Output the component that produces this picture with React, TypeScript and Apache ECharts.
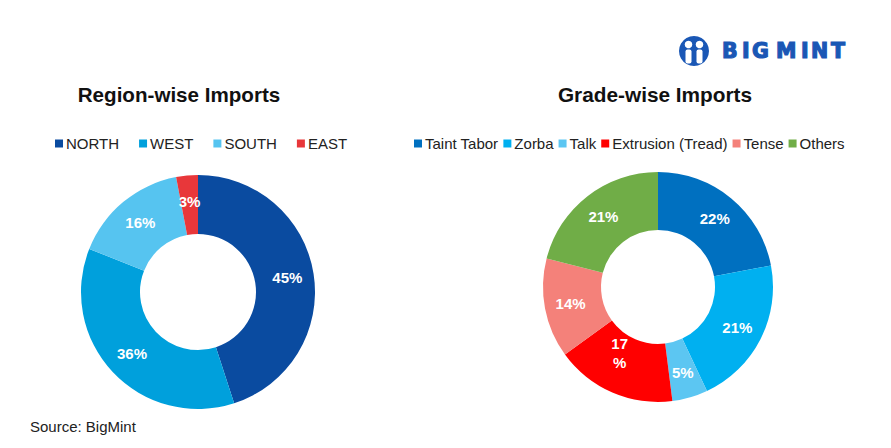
import React, { useEffect, useRef } from "react";
import * as echarts from "echarts";

const regionNames = ["NORTH", "WEST", "SOUTH", "EAST"];
const regionValues = [45, 36, 16, 3];
const regionColors = ["#0A4BA0", "#00A0DC", "#56C4F0", "#E8373A"];

const gradeNames = ["Taint Tabor", "Zorba", "Talk", "Extrusion (Tread)", "Tense", "Others"];
const gradeValues = [22, 21, 5, 17, 14, 21];
const gradeColors = ["#0070C0", "#00B0F0", "#5CC6F2", "#FF0000", "#F4817A", "#70AD47"];

const logoLetters = ["B", "I", "G", "M", "I", "N", "T"];
const logoLetterX = [722, 742, 752, 776, 801, 811, 831];

const FONT = "'Liberation Sans', Arial, sans-serif";
const LOGO_BLUE = "#1A57B5";

export default function App() {
  const ref = useRef<HTMLDivElement>(null);
  useEffect(() => {
    if (!ref.current) return;
    const chart = echarts.init(ref.current, undefined, { renderer: "svg" });
    const labelStyle = {
      show: true,
      position: "inside" as const,
      color: "#ffffff",
      fontWeight: "bold" as const,
      fontSize: 15,
      fontFamily: FONT,
      lineHeight: 19,
    };
    chart.setOption({
      animation: false,
      backgroundColor: "#ffffff",
      title: [
        {
          text: "Region-wise Imports",
          left: 174,
          top: 79,
          textAlign: "center",
          textStyle: { fontSize: 20.6, fontWeight: "bold", color: "#111", fontFamily: FONT },
        },
        {
          text: "Grade-wise Imports",
          left: 650,
          top: 79,
          textAlign: "center",
          textStyle: { fontSize: 20.8, fontWeight: "bold", color: "#111", fontFamily: FONT },
        },
      ],
      legend: [
        {
          data: regionNames,
          left: 50,
          top: 131,
          icon: "rect",
          itemWidth: 8,
          itemHeight: 8,
          itemGap: 20,
          textStyle: { fontSize: 15, color: "#222", fontFamily: FONT, padding: [0, 0, 0, -2] },
        },
        {
          data: gradeNames,
          left: 409,
          top: 131,
          icon: "rect",
          itemWidth: 8,
          itemHeight: 8,
          itemGap: 5,
          textStyle: { fontSize: 15, color: "#222", fontFamily: FONT, padding: [0, 0, 0, -2] },
        },
      ],
      series: [
        {
          type: "pie",
          center: [198, 292],
          radius: [58, 117],
          startAngle: 90,
          clockwise: true,
          label: { ...labelStyle, formatter: "{c}%" },
          labelLine: { show: false },
          itemStyle: { borderWidth: 0 },
          emphasis: { disabled: true },
          data: regionNames.map((n, i) => ({
            name: n,
            value: regionValues[i],
            itemStyle: { color: regionColors[i] },
          })),
        },
        {
          type: "pie",
          center: [658, 287],
          radius: [57, 115],
          startAngle: 90,
          clockwise: true,
          label: {
            ...labelStyle,
            formatter: (p: any) =>
              p.name === "Extrusion (Tread)" ? `${p.value}\n%` : `${p.value}%`,
          },
          labelLayout: (p: any) => (p.dataIndex === 3 ? { dx: -3, dy: -16 } : {}),
          labelLine: { show: false },
          itemStyle: { borderWidth: 0 },
          emphasis: { disabled: true },
          data: gradeNames.map((n, i) => ({
            name: n,
            value: gradeValues[i],
            itemStyle: { color: gradeColors[i] },
          })),
        },
      ],
      graphic: [
        {
          type: "group",
          left: 679,
          top: 36,
          children: [
            { type: "circle", shape: { cx: 15, cy: 15, r: 15 }, style: { fill: LOGO_BLUE } },
            { type: "circle", shape: { cx: 9.5, cy: 8.5, r: 3.8 }, style: { fill: "#ffffff" } },
            { type: "circle", shape: { cx: 20.5, cy: 8.5, r: 3.8 }, style: { fill: "#ffffff" } },
            { type: "rect", shape: { x: 6.5, y: 13.5, width: 6, height: 14, r: 2 }, style: { fill: "#ffffff" } },
            { type: "rect", shape: { x: 17.5, y: 13.5, width: 6, height: 14, r: 2 }, style: { fill: "#ffffff" } },
            { type: "rect", shape: { x: 13.5, y: 14, width: 3, height: 10 }, style: { fill: LOGO_BLUE } },
          ],
        },
        ...logoLetters.map((ch, i) => ({
          type: "text",
          x: logoLetterX[i],
          y: 51,
          style: {
            text: ch,
            fill: LOGO_BLUE,
            stroke: LOGO_BLUE,
            lineWidth: 1.2,
            font: `bold 20.5px 'DejaVu Sans', ${FONT}`,
            verticalAlign: "middle",
          },
        })),
        {
          type: "text",
          left: 30,
          top: 419,
          style: { text: "Source: BigMint", fill: "#222", font: `15px ${FONT}` },
        },
      ],
    });
    return () => chart.dispose();
  }, []);
  return (
    <div
      ref={ref}
      style={{ position: "absolute", left: 0, top: 0, width: 891, height: 448 }}
    />
  );
}
